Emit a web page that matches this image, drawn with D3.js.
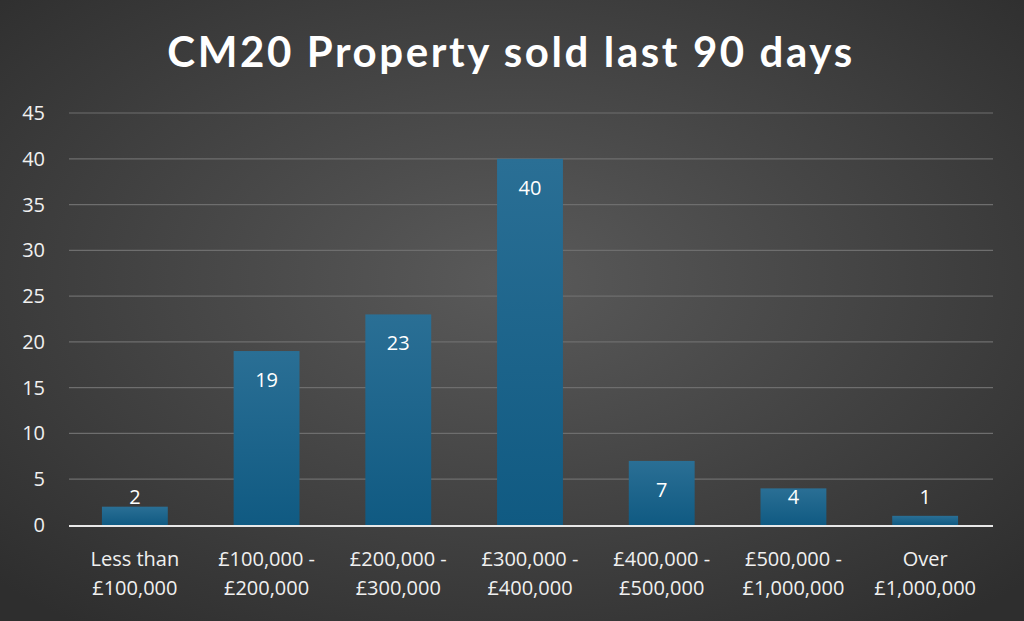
<!DOCTYPE html>
<html><head><meta charset="utf-8">
<script src="https://cdn.jsdelivr.net/npm/d3@7/dist/d3.min.js"></script>
<style>body{margin:0;background:#3a3a3a}svg{display:block}</style>
</head><body><svg id="c" width="1024" height="621"></svg>
<script>
const categories = [["Less than","£100,000"],["£100,000 -","£200,000"],["£200,000 -","£300,000"],["£300,000 -","£400,000"],["£400,000 -","£500,000"],["£500,000 -","£1,000,000"],["Over","£1,000,000"]];
const values = [2,19,23,40,7,4,1];
const yTicks = [0,5,10,15,20,25,30,35,40,45];
const title = "CM20 Property sold last 90 days";

const svg = d3.select("#c");
const defs = svg.append("defs");
const bg = defs.append("radialGradient").attr("id","bg").attr("cx","50%").attr("cy","45%").attr("r","70%");
bg.append("stop").attr("offset","0%").attr("stop-color","#5a5a5a");
bg.append("stop").attr("offset","100%").attr("stop-color","#2e2e2e");
const bar = defs.append("linearGradient").attr("id","bar").attr("x1",0).attr("y1",0).attr("x2",0).attr("y2",1);
bar.append("stop").attr("offset","0%").attr("stop-color","#2a6f95");
bar.append("stop").attr("offset","100%").attr("stop-color","#105a82");
svg.append("rect").attr("width",1024).attr("height",621).attr("fill","url(#bg)");

svg.append("text").attr("x",511).attr("y",67).attr("text-anchor","middle")
  .attr("fill","#fff").attr("font-family","Lato, 'Open Sans', sans-serif").attr("font-weight","bold")
  .attr("font-size",42).attr("letter-spacing",2.6).text(title);

const x = d3.scaleBand().domain(d3.range(values.length)).range([69,991]).paddingInner(0.5).paddingOuter(0.25);
const y = d3.scaleLinear().domain([0,45]).range([525,113]);

svg.append("g").selectAll("line").data(yTicks.slice(1)).join("line")
  .attr("x1",69).attr("x2",993).attr("y1",d=>y(d)).attr("y2",d=>y(d))
  .attr("stroke","#6e6e6e").attr("stroke-width",1.2);

svg.append("g").selectAll("text").data(yTicks).join("text")
  .attr("x",45).attr("y",d=>y(d)+7).attr("text-anchor","end")
  .attr("fill","#f0f0f0").attr("font-family","'Open Sans', sans-serif").attr("font-size",20).text(d=>d);

svg.append("g").selectAll("rect").data(values).join("rect")
  .attr("x",(d,i)=>x(i)).attr("width",x.bandwidth())
  .attr("y",d=>y(d)).attr("height",d=>y(0)-y(d)).attr("fill","url(#bar)");

svg.append("line").attr("x1",69).attr("x2",993).attr("y1",y(0)+1).attr("y2",y(0)+1)
  .attr("stroke","#e8e8e8").attr("stroke-width",2);

svg.append("g").selectAll("text").data(values).join("text")
  .attr("x",(d,i)=>x(i)+x.bandwidth()/2).attr("y",d=>Math.min(y(d)+36,y(0)-21))
  .attr("text-anchor","middle").attr("fill","#fff").attr("font-family","'Open Sans', sans-serif")
  .attr("font-size",20).text(d=>d);

const xl = svg.append("g").selectAll("text").data(categories).join("text")
  .attr("x",(d,i)=>x(i)+x.bandwidth()/2).attr("y",566).attr("text-anchor","middle")
  .attr("fill","#f0f0f0").attr("font-family","'Open Sans', sans-serif").attr("font-size",20);
xl.selectAll("tspan").data(d=>d).join("tspan")
  .attr("x",function(){return this.parentNode.getAttribute("x");})
  .attr("dy",(d,i)=>i?29:0).text(d=>d);
</script></body></html>
